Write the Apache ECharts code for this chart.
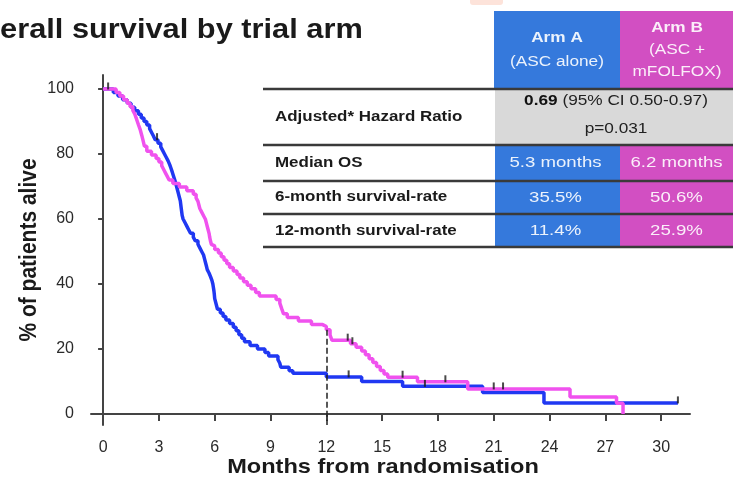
<!DOCTYPE html>
<html>
<head>
<meta charset="utf-8">
<script src="https://cdn.jsdelivr.net/npm/echarts@6/dist/echarts.min.js"></script>
<style>
  html, body { margin: 0; padding: 0; background: #ffffff; }
  #chart { width: 733px; height: 481px; }
</style>
</head>
<body>
<div id="chart"></div>
<script>
// Kaplan–Meier step points: [months from randomisation, % of patients alive]
const armA = [
  [0, 100], [0.55, 98.9], [0.8, 97.8], [1.05, 96.7], [1.3, 95.6], [1.5, 94.4], [1.7, 93.3],
  [1.9, 92.2], [2.05, 91.1], [2.2, 90.0], [2.35, 88.9], [2.5, 87.8], [2.6, 86.7], [2.7, 85.6],
  [2.8, 84.4], [2.95, 83.3], [3.1, 82.2], [3.2, 81.1], [3.3, 80.0], [3.4, 78.9], [3.5, 77.8],
  [3.58, 76.7], [3.65, 75.6], [3.72, 74.4], [3.78, 73.3], [3.84, 72.2], [3.9, 71.1], [3.95, 70.0],
  [4.0, 68.9], [4.05, 67.8], [4.1, 66.7], [4.15, 65.6], [4.2, 63.3], [4.25, 61.1], [4.3, 60.0],
  [4.4, 58.9], [4.5, 57.8], [4.6, 56.7], [4.7, 55.6], [4.85, 54.4], [4.95, 53.3], [5.1, 52.2],
  [5.2, 51.1], [5.3, 50.0], [5.4, 48.9], [5.45, 47.8], [5.5, 46.7], [5.55, 45.6], [5.6, 44.4],
  [5.7, 43.3], [5.78, 42.2], [5.85, 41.1], [5.9, 40.0], [5.93, 38.9], [5.96, 37.8], [5.98, 36.7],
  [6.0, 35.5], [6.1, 33.3], [6.15, 32.2], [6.3, 31.1], [6.45, 30.0], [6.6, 28.9], [6.8, 27.8],
  [7.0, 26.7], [7.15, 25.6], [7.3, 24.4], [7.45, 23.3], [7.6, 22.2], [7.9, 21.1], [8.3, 20.0],
  [8.7, 18.9], [8.9, 17.8], [9.4, 16.7], [9.5, 15.6], [9.55, 14.4], [10.0, 13.3], [10.2, 12.5],
  [12.0, 11.4], [13.9, 10.0], [16.1, 8.5], [20.4, 6.6], [23.7, 3.4], [30.9, 3.4]
];
const armB = [
  [0, 100], [0.7, 98.9], [0.9, 97.8], [1.1, 96.7], [1.3, 95.6], [1.45, 94.5], [1.6, 93.4],
  [1.7, 92.3], [1.8, 90.7], [1.9, 89.0], [2.0, 87.4], [2.08, 85.7], [2.15, 84.1], [2.22, 82.4],
  [2.35, 80.8], [2.6, 79.7], [2.85, 78.6], [3.0, 77.5], [3.15, 76.4], [3.25, 75.3], [3.35, 74.2],
  [3.45, 73.1], [3.55, 72.0], [3.75, 70.9], [4.1, 69.8], [4.5, 68.7], [4.85, 67.6], [5.0, 66.5],
  [5.1, 65.4], [5.15, 64.3], [5.2, 63.2], [5.3, 62.1], [5.4, 61.0], [5.5, 59.9], [5.55, 58.8],
  [5.6, 57.7], [5.65, 56.6], [5.7, 55.5], [5.73, 54.4], [5.77, 53.3], [5.82, 52.2], [5.9, 51.7],
  [6.0, 50.6], [6.2, 49.5], [6.35, 48.4], [6.5, 47.3], [6.65, 46.2], [6.8, 45.1], [7.0, 44.0],
  [7.2, 42.9], [7.35, 41.8], [7.55, 40.7], [7.75, 39.6], [7.95, 38.5], [8.2, 37.4], [8.4, 36.3],
  [9.3, 35.2], [9.5, 34.1], [9.6, 32.4], [9.7, 30.8], [9.9, 29.7], [10.5, 28.6], [11.2, 27.5],
  [11.8, 26.9], [12.0, 25.9], [12.2, 24.3], [12.3, 22.7], [13.3, 21.6], [13.6, 20.5], [13.9, 19.4],
  [14.1, 18.2], [14.3, 17.0], [14.5, 15.8], [14.7, 14.6], [14.9, 13.4], [15.1, 12.3], [15.3, 11.3],
  [16.9, 9.9], [19.6, 7.7], [25.1, 5.2], [27.6, 3.3], [27.95, 0]
];

// Censored observations (tick marks on the curves)
const censorA = [[0.27, 100], [2.9, 84.4], [13.2, 11.4], [17.3, 8.5], [30.9, 3.4]];
const censorB = [[13.15, 22.7], [13.4, 21.6], [16.1, 11.3], [18.4, 9.9], [21.0, 7.7], [21.5, 7.7]];

// Axis ticks
const xTicks = [0, 3, 6, 9, 12, 15, 18, 21, 24, 27, 30];
const yTicks = [0, 20, 40, 60, 80, 100];

// Summary table
const armHeaders = [['Arm A', '(ASC alone)'], ['Arm B', '(ASC +', 'mFOLFOX)']];
const rowLabels = ['Adjusted* Hazard Ratio', 'Median OS', '6-month survival-rate', '12-month survival-rate'];
const hazardRatio = ['0.69', '(95% CI 0.50-0.97)', 'p=0.031'];
const medianOS = [5.3, 6.2];
const survival6 = [35.5, 50.6];
const survival12 = [11.4, 25.9];
const landmarkMonth = 12;

const FONT = '"Liberation Sans", Arial, Helvetica, sans-serif';
const BLUE_LINE = '#2038f2';
const PINK_LINE = '#f052ee';
const BLUE_CELL = '#3579dc';
const PINK_CELL = '#d24fc2';

function txt(x, y, text, o) {
  o = o || {};
  return {
    type: 'text', x: x, y: y, z: 20,
    scaleX: o.sx === undefined ? 1.23 : o.sx,
    scaleY: o.sy === undefined ? 1 : o.sy,
    rotation: o.rot || 0,
    style: {
      text: text,
      fill: o.fill || '#1a1a1a',
      fontFamily: FONT,
      fontSize: o.size || 14,
      fontWeight: o.bold ? 'bold' : 'normal',
      align: o.align || 'center',
      verticalAlign: 'middle',
      rich: o.rich
    }
  };
}

const rowLines = [89, 145, 181, 214, 247];
const colA = [495, 620];
const colB = [620, 733];
const elems = [];

// faint patch at the top edge
elems.push({ type: 'rect', shape: { x: 470, y: -4, width: 33, height: 9, r: 3 }, style: { fill: '#fde3da' }, z: 1 });

// header cells
elems.push({ type: 'rect', shape: { x: 494, y: 11, width: 126, height: 77 }, style: { fill: BLUE_CELL }, z: 5 });
elems.push({ type: 'rect', shape: { x: 620, y: 11, width: 113, height: 77 }, style: { fill: PINK_CELL }, z: 5 });
const hdrFill = 'rgba(255,255,255,0.9)';
elems.push(txt(557, 38, armHeaders[0][0], { bold: true, fill: hdrFill }));
elems.push(txt(557, 62, armHeaders[0][1], { fill: hdrFill }));
elems.push(txt(677, 28, armHeaders[1][0], { bold: true, fill: hdrFill }));
elems.push(txt(677, 50, armHeaders[1][1], { fill: hdrFill }));
elems.push(txt(677, 72, armHeaders[1][2], { fill: hdrFill }));

// hazard ratio row (grey, spanning both arms)
elems.push({ type: 'rect', shape: { x: 495, y: 90, width: 238, height: 55 }, style: { fill: '#d9d9d9' }, z: 5 });
elems.push(txt(616, 101, '{b|' + hazardRatio[0] + '} ' + hazardRatio[1], {
  fill: '#222', rich: { b: { fontWeight: 'bold', fontFamily: FONT, fontSize: 14, fill: '#111' } }
}));
elems.push(txt(616, 129, hazardRatio[2], { fill: '#222' }));

// value rows
const rowValues = [
  medianOS.map(v => v.toFixed(1) + ' months'),
  survival6.map(v => v.toFixed(1) + '%'),
  survival12.map(v => v.toFixed(1) + '%')
];
for (let r = 0; r < 3; r++) {
  const y0 = rowLines[r + 1], y1 = rowLines[r + 2];
  elems.push({ type: 'rect', shape: { x: colA[0], y: y0, width: colA[1] - colA[0], height: y1 - y0 }, style: { fill: BLUE_CELL }, z: 5 });
  elems.push({ type: 'rect', shape: { x: colB[0], y: y0, width: colB[1] - colB[0], height: y1 - y0 }, style: { fill: PINK_CELL }, z: 5 });
  const yc = (y0 + y1) / 2 + 0.5;
  elems.push(txt((colA[0] + colA[1]) / 2 - 2, yc, rowValues[r][0], { fill: hdrFill, sx: 1.33 }));
  elems.push(txt((colB[0] + colB[1]) / 2, yc, rowValues[r][1], { fill: hdrFill, sx: 1.33 }));
}

// row labels
const labelY = [117, 163, 197, 231];
rowLabels.forEach((t, i) => elems.push(txt(275, labelY[i], t, { align: 'left', bold: true, sx: 1.21 })));

// horizontal rules
rowLines.forEach(y => elems.push({
  type: 'line', shape: { x1: 263, y1: y, x2: 733, y2: y },
  style: { stroke: '#3a3a3a', lineWidth: 2.5 }, z: 8
}));

// title and axis titles
elems.push(txt(-41, 31, 'Overall survival by trial arm', { align: 'left', bold: true, size: 27, sx: 1.14 }));
elems.push(txt(383, 467, 'Months from randomisation', { bold: true, size: 20.5, sx: 1.15 }));
elems.push(txt(29, 250, '% of patients alive', { bold: true, size: 21, sx: 1, sy: 1.15, rot: Math.PI / 2 }));

const censorStyle = {
  type: 'scatter', symbol: 'rect', symbolSize: [2, 7], symbolOffset: [0, -3],
  itemStyle: { color: '#1a1a1a' }, z: 6, silent: true
};

const option = {
  animation: false,
  backgroundColor: '#ffffff',
  grid: { left: 91, top: 75, width: 599, height: 350, containLabel: false, outerBoundsMode: 'none' },
  xAxis: {
    type: 'value', min: -0.65, max: 31.55,
    axisLine: { show: true, lineStyle: { color: '#444', width: 2 } },
    axisTick: { show: true, customValues: xTicks, length: 7, lineStyle: { color: '#444', width: 2 } },
    axisLabel: { customValues: xTicks, color: '#2a2a2a', fontSize: 16, fontFamily: FONT, margin: 15 },
    splitLine: { show: false }
  },
  yAxis: {
    type: 'value', min: -3.4, max: 104.3,
    axisLine: { show: true, lineStyle: { color: '#444', width: 2 } },
    axisTick: { show: true, customValues: yTicks, length: 5, lineStyle: { color: '#444', width: 2 } },
    axisLabel: { customValues: yTicks, color: '#2a2a2a', fontSize: 16, fontFamily: FONT, margin: 17 },
    splitLine: { show: false }
  },
  graphic: { elements: elems },
  series: [
    {
      name: 'Arm A', type: 'line', step: 'end', data: armA, showSymbol: false,
      lineStyle: { color: BLUE_LINE, width: 3.5 }, itemStyle: { color: BLUE_LINE }, z: 3
    },
    {
      name: 'Arm B', type: 'line', step: 'end', data: armB, showSymbol: false,
      lineStyle: { color: PINK_LINE, width: 3.5 }, itemStyle: { color: PINK_LINE }, z: 4,
      markLine: {
        silent: true, symbol: 'none', label: { show: false },
        lineStyle: { color: '#222', type: [6, 3], width: 1.5 },
        data: [[{ coord: [landmarkMonth, survival12[1]] }, { coord: [landmarkMonth, -3.4] }]]
      }
    },
    Object.assign({ name: 'Censored A', data: censorA }, censorStyle),
    Object.assign({ name: 'Censored B', data: censorB }, censorStyle)
  ]
};

const chart = echarts.init(document.getElementById('chart'), null, { renderer: 'canvas' });
chart.setOption(option);
</script>
</body>
</html>
